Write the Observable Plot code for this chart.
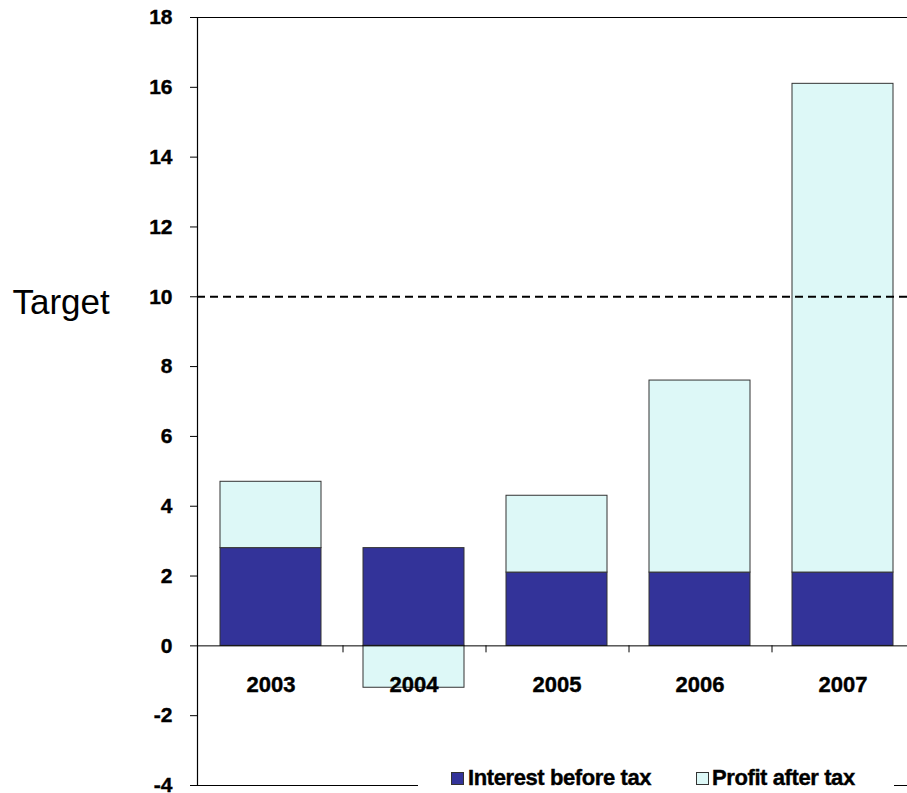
<!DOCTYPE html>
<html>
<head>
<meta charset="utf-8">
<script src="https://cdn.jsdelivr.net/npm/d3@7"></script>
<script src="https://cdn.jsdelivr.net/npm/@observablehq/plot@0.6"></script>
<style>
  html, body { margin: 0; padding: 0; background: #fff; }
  #wrap { position: relative; width: 907px; height: 793px; overflow: hidden; font-family: "Liberation Sans", Arial, sans-serif; }
  #legend { position: absolute; left: 418px; top: 766px; width: 476px; height: 27px; background: #fff;
            font-weight: bold; font-size: 22px; color: #000; }
  .sw { position: absolute; width: 11px; height: 11px; border: 1px solid #333; top: 6px; }
  .lb { position: absolute; top: -1px; white-space: nowrap; letter-spacing: -0.4px; -webkit-text-stroke: 0.4px #000; }
  .heavy text { stroke: #000; stroke-width: 0.4px; }
</style>
</head>
<body>
<div id="wrap">
  <div id="chart"></div>
  <div id="legend"></div>
</div>
<script>
const years = ["2003", "2004", "2005", "2006", "2007"];
const seriesNames = ["Interest before tax", "Profit after tax"];
const interestBeforeTax = [2.8, 2.8, 2.1, 2.1, 2.1];
const profitAfterTax = [1.9, -1.2, 2.2, 5.5, 14.0];
const seriesColors = ["#333399", "#ddf8f7"];
const yTicks = [-4, -2, 0, 2, 4, 6, 8, 10, 12, 14, 16, 18];
const targetValue = 10;
const targetLabel = "Target";

const rows = [];
years.forEach((y, i) => rows.push({year: y, series: seriesNames[0], value: interestBeforeTax[i]}));
years.forEach((y, i) => rows.push({year: y, series: seriesNames[1], value: profitAfterTax[i]}));

const font = "Liberation Sans, Arial, sans-serif";

const chart = Plot.plot({
  width: 907,
  height: 793,
  marginTop: 17,
  marginBottom: 8,
  marginLeft: 197,
  marginRight: 0,
  style: {fontFamily: font, color: "#000", background: "#fff", overflow: "visible"},
  x: {domain: years, range: [197, 916], padding: 0, axis: null},
  y: {domain: [-4, 18], label: null},
  color: {domain: seriesNames, range: seriesColors},
  marks: [
    Plot.barY(rows, Plot.stackY({x: "year", y: "value", fill: "series", stroke: "#333", strokeWidth: 1, insetLeft: 21, insetRight: 21})),
    Plot.ruleY([0], {stroke: "#000", strokeWidth: 1}),
    Plot.ruleX(years.slice(0, 4), {x: d => d, dx: 72, y1: 0, y2: -0.2, stroke: "#000"}),
    Plot.ruleY([18], {stroke: "#000", strokeWidth: 1.2}),
    Plot.ruleY([-4], {stroke: "#000", strokeWidth: 1.2}),
    Plot.ruleY([targetValue], {stroke: "#000", strokeWidth: 2, strokeDasharray: "8,5"}),
    Plot.frame({anchor: "left", stroke: "#000", strokeWidth: 1.2}),
    Plot.axisY({ticks: yTicks, tickSize: 7, tickPadding: 18, fontSize: 21, fontWeight: "bold", label: null, tickFormat: d => String(d), className: "heavy"}),
    Plot.text(years, {x: d => d, y: () => 0, text: d => d, dy: 39, fontSize: 22, fontWeight: "bold", fill: "#000", className: "heavy"}),
    Plot.text([targetLabel], {y: () => targetValue, frameAnchor: "left", dx: -185, dy: 6, textAnchor: "start", text: d => d, fontSize: 35, fill: "#000"})
  ]
});
document.getElementById("chart").appendChild(chart);

const legend = document.getElementById("legend");
const items = [{x: 33, tx: 50}, {x: 278, tx: 294}];
seriesNames.forEach((name, i) => {
  const sw = document.createElement("div");
  sw.className = "sw";
  sw.style.left = items[i].x + "px";
  sw.style.background = seriesColors[i];
  legend.appendChild(sw);
  const lb = document.createElement("div");
  lb.className = "lb";
  lb.style.left = items[i].tx + "px";
  lb.textContent = name;
  legend.appendChild(lb);
});
</script>
</body>
</html>
